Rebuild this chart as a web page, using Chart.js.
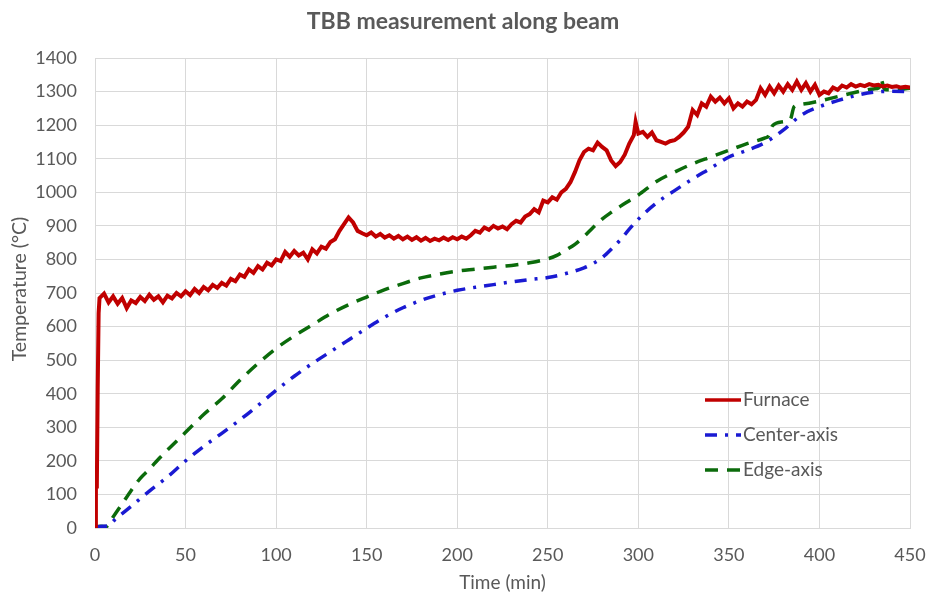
<!DOCTYPE html>
<html>
<head>
<meta charset="utf-8">
<script src="https://cdn.jsdelivr.net/npm/chart.js@4"></script>
<style>
  html, body { margin: 0; padding: 0; background: #ffffff; }
  #wrap { width: 928px; height: 594px; position: relative; }
</style>
</head>
<body>
<div id="wrap"><canvas id="c" width="928" height="594"></canvas></div>
<script>
// ---------- DATA ----------
const chartTitle = "TBB measurement along beam";
const xTitle = "Time (min)";
const yTitle = "Temperature (°C)";
const xTicks = [0, 50, 100, 150, 200, 250, 300, 350, 400, 450];
const yTicks = [0, 100, 200, 300, 400, 500, 600, 700, 800, 900, 1000, 1100, 1200, 1300, 1400];
const seriesNames = ["Furnace", "Center-axis", "Edge-axis"];

const furnaceTime = [0, 0.5, 1, 1.5, 2, 2.5, 5, 7.5, 10, 12.5, 15, 17.5, 20, 22.5, 25, 27.5, 30, 32.5, 35, 37.5,
  40, 42.5, 45, 47.5, 50, 52.5, 55, 57.5, 60, 62.5, 65, 67.5, 70, 72.5, 75, 77.5, 80, 82.5, 85, 87.5,
  90, 92.5, 95, 97.5, 100, 102.5, 105, 107.5, 110, 112.5, 115, 117.5, 120, 122.5, 125, 127.5, 130, 132.5, 135, 137.5,
  140, 142.5, 145, 147.5, 150, 152.5, 155, 157.5, 160, 162.5, 165, 167.5, 170, 172.5, 175, 177.5, 180, 182.5, 185, 187.5,
  190, 192.5, 195, 197.5, 200, 202.5, 205, 207.5, 210, 212.5, 215, 217.5, 220, 222.5, 225, 227.5, 230, 232.5, 235, 237.5,
  240, 242.5, 245, 247.5, 250, 252.5, 255, 257.5, 260, 262.5, 265, 267.5, 270, 272.5, 275, 277.5, 280, 282.5, 285, 287.5,
  290, 292.5, 295, 297.5, 298.5, 300, 302.5, 305, 307.5, 310, 312.5, 315, 317.5, 320, 322.5, 325, 327.5, 330, 332.5, 335, 337.5,
  340, 342.5, 345, 347.5, 350, 352.5, 355, 357.5, 360, 362.5, 365, 367.5, 370, 372.5, 375, 377.5, 380, 382.5, 385, 387.5,
  390, 392.5, 395, 397.5, 400, 402.5, 405, 407.5, 410, 412.5, 415, 417.5, 420, 422.5, 425, 427.5, 430, 432.5, 435, 437.5,
  440, 442.5, 445, 447.5, 450];
const furnaceTemp = [0, 160, 118, 420, 640, 685, 698, 672, 690, 668, 685, 655, 678, 670, 688, 676, 695, 680, 690, 672,
  692, 684, 700, 690, 705, 694, 712, 700, 718, 708, 724, 715, 730, 722, 742, 735, 755, 748, 770, 760,
  780, 770, 790, 782, 800, 795, 822, 808, 825, 812, 820, 800, 830, 818, 838, 832, 852, 860, 885, 905,
  925, 910, 885, 878, 872, 880, 868, 876, 865, 872, 862, 870, 860, 868, 858, 866, 856, 864, 855, 862,
  857, 865, 858, 866, 860, 868, 862, 872, 885, 880, 895, 888, 900, 892, 898, 890, 905, 915, 910, 928,
  935, 950, 940, 975, 970, 985, 978, 1000, 1010, 1030, 1060, 1095, 1120, 1130, 1125, 1148, 1135, 1125, 1095, 1078,
  1090, 1112, 1145, 1170, 1210, 1175, 1180, 1165, 1178, 1155, 1150, 1145, 1152, 1155, 1165, 1178, 1195, 1245, 1230, 1265, 1255,
  1285, 1270, 1282, 1265, 1280, 1250, 1265, 1255, 1270, 1262, 1275, 1310, 1290, 1315, 1295, 1318, 1300, 1322, 1305, 1330,
  1305, 1325, 1300, 1320, 1290, 1300, 1295, 1312, 1305, 1318, 1312, 1322, 1315, 1320, 1316, 1322, 1318, 1320, 1315, 1318,
  1314, 1316, 1312, 1314, 1312];

const centerTime = [0, 4, 7, 11, 20, 30, 40, 50, 60, 70, 80, 90, 100, 110, 120, 130, 140, 150, 160, 170, 180, 190, 200,
  210, 220, 230, 240, 250, 260, 270, 275, 280, 285, 290, 295, 300, 310, 320, 330, 340, 350, 360, 370, 380, 390, 400,
  410, 420, 430, 440, 450];
const centerTemp = [3, 5, 6, 25, 65, 110, 152, 200, 243, 282, 322, 365, 410, 452, 490, 525, 560, 595, 628, 656, 678, 695, 708,
  717, 725, 733, 740, 746, 758, 775, 788, 805, 830, 858, 890, 920, 968, 1005, 1040, 1072, 1105, 1125, 1148, 1185, 1230, 1255,
  1273, 1288, 1298, 1301, 1300];

const edgeTime = [0, 3, 6, 10, 15, 20, 25, 30, 35, 40, 50, 60, 70, 80, 90, 100, 110, 120, 130, 140, 150, 160, 170, 180, 190,
  200, 210, 220, 230, 240, 250, 255, 260, 265, 270, 275, 280, 285, 290, 295, 300, 310, 320, 330, 340, 350, 360, 370, 372,
  374, 380, 384, 386, 390, 400, 410, 420, 430, 433, 434, 436, 440, 450];
const edgeTemp = [3, 5, 4, 33, 72, 112, 148, 175, 205, 232, 285, 338, 385, 440, 490, 535, 572, 605, 638, 665, 688, 710, 728, 745, 756,
  765, 771, 777, 782, 790, 802, 812, 828, 845, 868, 895, 920, 940, 958, 975, 992, 1032, 1060, 1085, 1105, 1125, 1145, 1162, 1168,
  1198, 1210, 1218, 1255, 1262, 1272, 1285, 1298, 1308, 1312, 1336, 1306, 1305, 1310];

// ---------- CHART ----------
const FONT = "Lato, 'Open Sans', sans-serif";
const TXT = "#595959";
const pts = (xs, ys) => xs.map((x, i) => ({ x: x, y: ys[i] }));

const furnaceStyle = { color: "#c00000", dash: [] };
const centerStyle = { color: "#1a1ad2", dash: [12, 8, 3, 8] };
const edgeStyle = { color: "#0b6b0b", dash: [13, 9] };

const customText = {
  id: "customText",
  afterDraw(chart) {
    const ctx = chart.ctx;
    const ca = chart.chartArea;
    ctx.save();
    ctx.fillStyle = TXT;
    ctx.textAlign = "center";
    ctx.textBaseline = "middle";
    ctx.font = "bold 23px " + FONT;
    ctx.fillText(chartTitle, 463, 22);
    ctx.font = "19px " + FONT;
    ctx.fillText(xTitle, (ca.left + ca.right) / 2, 583);
    ctx.save();
    ctx.translate(20, 289);
    ctx.rotate(-Math.PI / 2);
    ctx.font = "19.5px " + FONT;
    ctx.fillText(yTitle, 0, 0);
    ctx.restore();

    // legend drawn from dataset styles
    const items = chart.data.datasets;
    const ys = [400, 435, 470];
    items.forEach((ds, i) => {
      const y = ys[i];
      ctx.beginPath();
      ctx.strokeStyle = ds.borderColor;
      ctx.lineWidth = 3.5;
      ctx.setLineDash(ds.borderDash || []);
      ctx.moveTo(705, y);
      ctx.lineTo(741, y);
      ctx.stroke();
      ctx.setLineDash([]);
      ctx.fillStyle = TXT;
      ctx.textAlign = "left";
      ctx.font = "19px " + FONT;
      ctx.fillText(ds.label, 743, y);
    });
    ctx.restore();
  }
};

new Chart(document.getElementById("c"), {
  type: "line",
  data: {
    datasets: [
      { label: seriesNames[0], data: pts(furnaceTime, furnaceTemp), borderColor: furnaceStyle.color,
        borderWidth: 4, pointRadius: 0, tension: 0, borderDash: furnaceStyle.dash },
      { label: seriesNames[1], data: pts(centerTime, centerTemp), borderColor: centerStyle.color,
        borderWidth: 3.5, pointRadius: 0, cubicInterpolationMode: "monotone", borderDash: centerStyle.dash },
      { label: seriesNames[2], data: pts(edgeTime, edgeTemp), borderColor: edgeStyle.color,
        borderWidth: 3.5, pointRadius: 0, cubicInterpolationMode: "monotone", borderDash: edgeStyle.dash }
    ]
  },
  options: {
    responsive: false,
    animation: false,
    layout: { padding: { top: 58, right: 18, left: 0, bottom: 0 } },
    plugins: { legend: { display: false }, title: { display: false }, tooltip: { enabled: false } },
    scales: {
      x: {
        type: "linear", min: 0, max: 450,
        afterBuildTicks: (s) => { s.ticks = xTicks.map(v => ({ value: v })); },
        afterFit: (s) => { s.height = 66; s.paddingLeft = 0; s.paddingRight = 0; },
        grid: { color: "#d9d9d9", lineWidth: 1, drawTicks: false },
        border: { color: "#d9d9d9" },
        ticks: { color: TXT, font: { family: FONT, size: 18 }, padding: 16, maxRotation: 0,
          callback: (v) => String(v) }
      },
      y: {
        type: "linear", min: 0, max: 1400,
        afterBuildTicks: (s) => { s.ticks = yTicks.map(v => ({ value: v })); },
        afterFit: (s) => { s.width = 95; s.paddingTop = 0; s.paddingBottom = 0; },
        grid: { color: "#d9d9d9", lineWidth: 1, drawTicks: false },
        border: { color: "#d9d9d9" },
        ticks: { color: TXT, font: { family: FONT, size: 18 }, padding: 18,
          callback: (v) => String(v) }
      }
    }
  },
  plugins: [customText]
});
</script>
</body>
</html>
